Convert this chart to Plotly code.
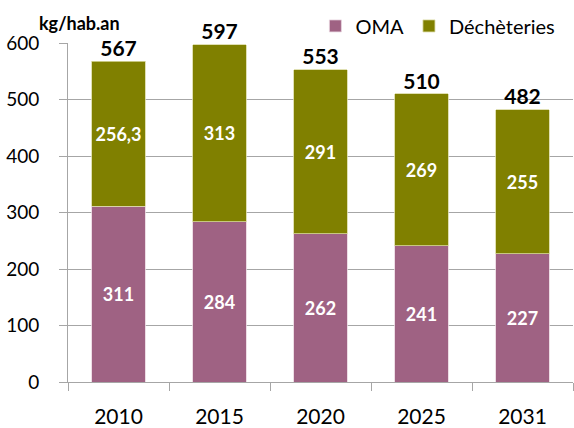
import plotly.graph_objects as go

years = ["2010", "2015", "2020", "2025", "2031"]
oma = [311, 284, 262, 241, 227]
decheteries = [256.3, 313, 291, 269, 255]
oma_labels = ["311", "284", "262", "241", "227"]
dech_labels = ["256,3", "313", "291", "269", "255"]
totals = [567, 597, 553, 510, 482]

FONT = "Lato"
OMA_COLOR = "#9F6283"
DECH_COLOR = "#808000"
GRID = "#A6A6A6"

fig = go.Figure()
fig.add_trace(go.Bar(
    x=years, y=oma, name="OMA", marker=dict(color=OMA_COLOR, line=dict(color="#E8D5DF", width=0.8)),
    text=oma_labels, textposition="inside", insidetextanchor="middle",
    textfont=dict(family=FONT, size=18, color="white", weight="bold"),
    hoverinfo="skip",
))
fig.add_trace(go.Bar(
    x=years, y=decheteries, name="Déchèteries", marker=dict(color=DECH_COLOR, line=dict(color="#D8D8A0", width=0.8)),
    text=dech_labels, textposition="inside", insidetextanchor="middle",
    textfont=dict(family=FONT, size=18, color="white", weight="bold"),
    hoverinfo="skip",
))
fig.add_trace(go.Scatter(
    x=years, y=totals, mode="text", text=[f"<b>{t}</b>" for t in totals],
    textposition="top center", textfont=dict(family=FONT, size=21, color="black"),
    showlegend=False, hoverinfo="skip", cliponaxis=False,
))

fig.add_annotation(x=0, xref="paper", xanchor="left", xshift=-31, y=1, yref="paper", yanchor="bottom", yshift=7,
                   text="<b>kg/hab.an</b>", showarrow=False, font=dict(family=FONT, size=18, color="black"))

fig.update_layout(
    width=574, height=428,
    margin=dict(l=68, r=1, t=43, b=46, autoexpand=False),
    barmode="stack", bargap=0.47,
    plot_bgcolor="white", paper_bgcolor="white",
    showlegend=True,
    legend=dict(orientation="h", x=0.975, xanchor="right", yref="container", y=0.985, yanchor="top",
                traceorder="normal", font=dict(family=FONT, size=20, color="black"),
                bgcolor="rgba(0,0,0,0)"),
    font=dict(family=FONT, color="black"),
)
fig.update_xaxes(
    type="category", showline=True, linecolor=GRID, linewidth=1, automargin=False,
    ticks="outside", tickson="boundaries", ticklen=8, tickcolor=GRID,
    tickfont=dict(family=FONT, size=21, color="black"), ticklabelstandoff=16,
    showgrid=False,
)
fig.update_yaxes(
    range=[0, 600], dtick=100, showline=True, linecolor=GRID, linewidth=1, automargin=False,
    ticks="outside", ticklen=8, tickcolor=GRID,
    tickfont=dict(family=FONT, size=19, color="black"), ticklabelstandoff=16,
    showgrid=True, gridcolor=GRID, gridwidth=1, zeroline=False,
)

fig.write_html("out.html", config={"displayModeBar": False},
               post_script="document.body.style.margin='0';")
